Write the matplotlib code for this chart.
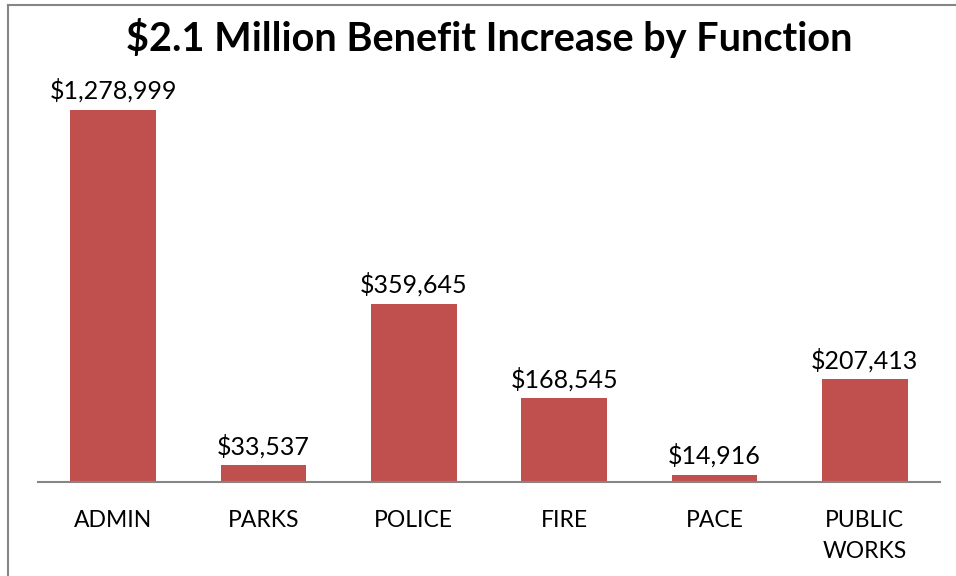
import matplotlib.pyplot as plt
from matplotlib.lines import Line2D

# Données : hausse des avantages par fonction
fonctions = ['ADMIN', 'PARKS', 'POLICE', 'FIRE', 'PACE', 'PUBLIC\nWORKS']
hausses = [1278999, 33537, 359645, 168545, 14916, 207413]
plafond_axe = 750000

rouge = '#C0504D'
gris = '#868686'

plt.rcParams['font.family'] = ['Lato', 'DejaVu Sans']

fig = plt.figure(figsize=(9.56, 5.76), dpi=100)
ax = fig.add_axes([38 / 956, 94 / 576, 902 / 956, 372 / 576])

x = range(len(fonctions))
ax.bar(x, hausses, width=0.57, color=rouge, zorder=2)
ax.set_xlim(-0.5, len(fonctions) - 0.5)
ax.set_ylim(0, plafond_axe)

# Étiquettes de valeur au-dessus des barres (la barre ADMIN dépasse l'axe)
for i, v in enumerate(hausses):
    y = min(v, plafond_axe)
    ax.annotate(f'${v:,}', (i, y), xytext=(0, 5), textcoords='offset points',
                ha='center', va='bottom', fontsize=18, color='black',
                annotation_clip=False)

ax.set_xticks(list(x))
ax.set_xticklabels(fonctions, fontsize=16.5, linespacing=1.6)
ax.tick_params(axis='x', length=0, pad=20)
ax.set_yticks([])
for cote in ['top', 'right', 'left']:
    ax.spines[cote].set_visible(False)
ax.spines['bottom'].set_color(gris)
ax.spines['bottom'].set_linewidth(1.5)

fig.text(489 / 956, 1 - 38 / 576, '$2.1 Million Benefit Increase by Function',
         ha='center', va='center', fontsize=28.5, fontweight='bold')

# Cadre du graphique (bords gauche et haut)
fig.add_artist(Line2D([8 / 956, 8 / 956], [0, 1 - 5 / 576], color=gris, lw=1.5))
fig.add_artist(Line2D([8 / 956, 1], [1 - 5 / 576, 1 - 5 / 576], color=gris, lw=1.5))

fig.savefig('out.png', dpi=100)
